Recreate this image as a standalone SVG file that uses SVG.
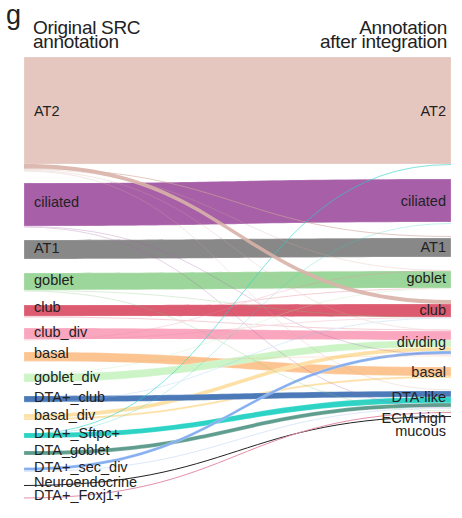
<svg xmlns="http://www.w3.org/2000/svg" width="462" height="518" viewBox="0 0 462 518">
  <style>
    text { font-family: "Liberation Sans", Arial, sans-serif; fill: #222; }
    .lbl { font-size: 14.5px; }
    .lft { text-anchor: start; }
    .rgt { text-anchor: end; }
    .hdr { font-size: 19px; letter-spacing: -0.3px; }
    .band { stroke: #fff; stroke-opacity: 0.45; stroke-width: 0.5; }
    .thin { fill: none; stroke-width: 1; }
  </style>
  <rect width="462" height="518" fill="#fff"/>

  <!-- panel letter and column headers -->
  <text x="6" y="24" font-size="27">g</text>
  <text class="hdr" x="33" y="34">Original SRC</text>
  <text class="hdr" x="33" y="48">annotation</text>
  <text class="hdr rgt" x="447" y="34">Annotation</text>
  <text class="hdr rgt" x="447" y="48">after integration</text>

  <!-- flows: left x=24, right x=451, control points at x=237.5 -->
  <g id="connectors">
    <path class="band" fill="#e5c7bf" d="M24 57 L451 57 L451 164 L24 164 Z"/>
    <path class="band" fill="#a75fa8" d="M24 183 C237.5 183 237.5 179 451 179 L451 222 C237.5 222 237.5 226 24 226 Z"/>
    <path class="band" fill="#888888" d="M24 240 C237.5 240 237.5 238 451 238 L451 257 C237.5 257 237.5 259 24 259 Z"/>
    <path class="band" fill="#9dd69a" d="M24 273 C237.5 273 237.5 271 451 271 L451 288 C237.5 288 237.5 290 24 290 Z"/>
    <path class="band" fill="#dc5b70" d="M24 305 C237.5 305 237.5 304 451 304 L451 317 C237.5 317 237.5 316 24 316 Z"/>
    <path class="band" fill="#f9a6be" d="M24 328 C237.5 328 237.5 331 451 331 L451 340 C237.5 340 237.5 339 24 339 Z"/>
    <path class="band" fill="#fcc491" d="M24 352 C237.5 352 237.5 367 451 367 L451 376 C237.5 376 237.5 361 24 361 Z"/>
    <path class="band" fill="#cdf4c7" d="M24 374 C237.5 374 237.5 340 451 340 L451 347 C237.5 347 237.5 382 24 382 Z"/>
    <path class="band" fill="#fde0a5" d="M24 414 C237.5 414 237.5 347 451 347 L451 351 C237.5 351 237.5 418 24 418 Z"/>
    <path class="band" fill="#fde0a5" d="M24 418 C237.5 418 237.5 376 451 376 L451 378 C237.5 378 237.5 420 24 420 Z"/>
    <path class="band" fill="#4c79b8" d="M24 396 C237.5 396 237.5 391 451 391 L451 397 C237.5 397 237.5 402 24 402 Z"/>
    <path class="band" fill="#2dd4c6" d="M24 433 C237.5 433 237.5 397 451 397 L451 403 C237.5 403 237.5 438 24 438 Z"/>
    <path class="band" fill="#5f9d8e" d="M24 451 C237.5 451 237.5 403 451 403 L451 407 C237.5 407 237.5 455 24 455 Z"/>
    <path class="band" fill="#86aff0" d="M24 467.5 C237.5 467.5 237.5 351 451 351 L451 354 C237.5 354 237.5 470.5 24 470.5 Z"/>
    <path class="thin" stroke="#222" d="M24 485.5 C237.5 485.5 237.5 416.5 451 416.5"/>
    <path class="thin" stroke="#e48fa6" d="M24 498 C237.5 498 237.5 412.5 451 412.5"/>

    <!-- minor exchanges between types -->
    <g opacity="0.28">
      <path class="thin" stroke="#d6aea2" d="M24 169.5 C237.5 169.5 237.5 270.5 451 270.5"/>
      <path class="thin" stroke="#d6aea2" d="M24 170.5 C237.5 170.5 237.5 330.5 451 330.5"/>
      <path class="thin" stroke="#d6aea2" d="M24 171 C237.5 171 237.5 390 451 390"/>
      <path class="thin" stroke="#2dd4c6" d="M24 435 C237.5 435 237.5 223.5 451 223.5"/>
      <path class="thin" stroke="#a75fa8" d="M24 226.5 C237.5 226.5 237.5 355 451 355"/>
      <path class="thin" stroke="#a75fa8" d="M24 227 C237.5 227 237.5 408 451 408"/>
      <path class="thin" stroke="#7fc97b" d="M24 290.5 C237.5 290.5 237.5 317.5 451 317.5"/>
      <path class="thin" stroke="#7fc97b" d="M24 291 C237.5 291 237.5 411 451 411"/>
      <path class="thin" stroke="#dc5b70" d="M24 316.5 C237.5 316.5 237.5 288.5 451 288.5"/>
      <path class="thin" stroke="#dc5b70" d="M24 317 C237.5 317 237.5 330 451 330"/>
      <path class="thin" stroke="#f28aa8" d="M24 339.5 C237.5 339.5 237.5 317.5 451 317.5"/>
      <path class="thin" stroke="#f28aa8" d="M24 340 C237.5 340 237.5 270.5 451 270.5"/>
      <path class="thin" stroke="#b9eab2" d="M24 373.5 C237.5 373.5 237.5 288.5 451 288.5"/>
      <path class="thin" stroke="#f9b47a" d="M24 361.5 C237.5 361.5 237.5 356 451 356"/>
      <path class="thin" stroke="#8fc3f0" d="M24 402.5 C237.5 402.5 237.5 318 451 318"/>
      <path class="thin" stroke="#86aff0" d="M24 471.5 C237.5 471.5 237.5 408 451 408"/>
    </g>
    <g opacity="0.6">
      <path class="thin" stroke="#d2a99c" stroke-width="1.5" d="M24 168.5 C237.5 168.5 237.5 236.5 451 236.5"/>
      <path class="thin" stroke="#2dd4c6" stroke-width="0.7" d="M24 434 C237.5 434 237.5 164.5 451 164.5"/>
    </g>
    <path fill="#d9b3a8" fill-opacity="0.9" d="M24 164 C237.5 164 237.5 300 451 300 L451 304 C237.5 304 237.5 168 24 168 Z"/>
  </g>

  <!-- original SRC annotation (left column) -->
  <g id="src-AT2"><text class="lbl lft" x="34" y="116">AT2</text></g>
  <g id="src-ciliated"><text class="lbl lft" x="34" y="207">ciliated</text></g>
  <g id="src-AT1"><text class="lbl lft" x="34" y="253">AT1</text></g>
  <g id="src-goblet"><text class="lbl lft" x="34" y="285">goblet</text></g>
  <g id="src-club"><text class="lbl lft" x="34" y="312">club</text></g>
  <g id="src-club_div"><text class="lbl lft" x="34" y="337">club_div</text></g>
  <g id="src-basal"><text class="lbl lft" x="34" y="358">basal</text></g>
  <g id="src-goblet_div"><text class="lbl lft" x="34" y="382">goblet_div</text></g>
  <g id="src-DTA_club"><text class="lbl lft" x="34" y="402">DTA+_club</text></g>
  <g id="src-basal_div"><text class="lbl lft" x="34" y="420">basal_div</text></g>
  <g id="src-DTA_Sftpc"><text class="lbl lft" x="34" y="438">DTA+_Sftpc+</text></g>
  <g id="src-DTA_goblet"><text class="lbl lft" x="34" y="455">DTA_goblet</text></g>
  <g id="src-DTA_sec_div"><text class="lbl lft" x="34" y="472">DTA+_sec_div</text></g>
  <g id="src-Neuroendocrine"><text class="lbl lft" x="34" y="487">Neuroendocrine</text></g>
  <g id="src-DTA_Foxj1"><text class="lbl lft" x="34" y="500">DTA+_Foxj1+</text></g>

  <!-- annotation after integration (right column) -->
  <g id="int-AT2"><text class="lbl rgt" x="446" y="116">AT2</text></g>
  <g id="int-ciliated"><text class="lbl rgt" x="446" y="206">ciliated</text></g>
  <g id="int-AT1"><text class="lbl rgt" x="446" y="252">AT1</text></g>
  <g id="int-goblet"><text class="lbl rgt" x="446" y="283">goblet</text></g>
  <g id="int-club"><text class="lbl rgt" x="446" y="315">club</text></g>
  <g id="int-dividing"><text class="lbl rgt" x="446" y="347">dividing</text></g>
  <g id="int-basal"><text class="lbl rgt" x="446" y="377">basal</text></g>
  <g id="int-DTA-like"><text class="lbl rgt" x="446" y="402">DTA-like</text></g>
  <g id="int-ECM-high-mucous">
    <text class="lbl rgt" x="446" y="423">ECM-high</text>
    <text class="lbl rgt" x="446" y="436">mucous</text>
  </g>
</svg>
